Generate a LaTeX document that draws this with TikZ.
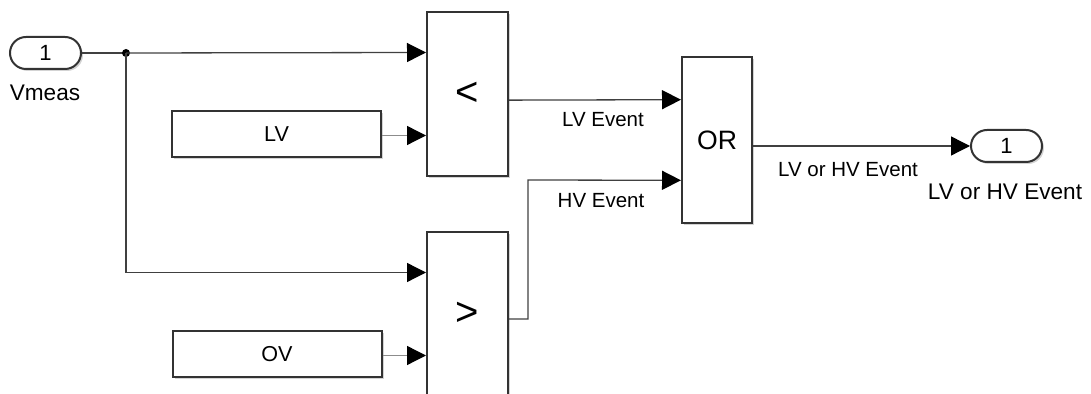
\documentclass[tikz,border=0pt]{standalone}
\usepackage{fontspec}
\setmainfont{Liberation Sans}
\usetikzlibrary{arrows.meta,calc,shadows}

\tikzset{
  blk/.style={draw=black!80, line width=1pt, fill=white,
    drop shadow={shadow xshift=1pt, shadow yshift=-1pt, opacity=0.35}},
  relop/.style={blk, minimum width=40.5pt, minimum height=82pt, font=\fontsize{20}{20}\selectfont},
  constblk/.style={blk, minimum width=104.5pt, minimum height=23pt, font=\fontsize{10.8}{12}\selectfont},
  port/.style={blk, rounded corners=8pt, minimum width=35.5pt, minimum height=16pt, font=\fontsize{11}{12}\selectfont},
  sig/.style={draw=black!75, line width=0.65pt, -{Triangle[length=9.5pt,width=9.5pt,color=black,fill=black]}},
  csig/.style={sig, draw=black!45},
  siglabel/.style={font=\fontsize{10.25}{12}\selectfont},
  portlabel/.style={font=\fontsize{11.3}{13}\selectfont}
}

\begin{document}
\begin{tikzpicture}[x=0.5pt,y=-0.5pt]

\clip (0,0) rectangle (1091,394);
\useasboundingbox (0,0) rectangle (1091,394);

% blocks
\node [port] (vin) at (45.5,53) {1};
\node [portlabel] (vinname) at (45,93) {Vmeas};

\node [constblk] (lvc) at (276.5,134) {LV};
\node [constblk] (ovc) at (277,354) {OV};

\node [relop] (lt) at (467.5,94) {<};
\node [relop] (gt) at (467.5,314) {>};

\node [blk, minimum width=35pt, minimum height=83pt, font=\fontsize{13.3}{14}\selectfont] (orgate) at (717,140) {OR};

\node [port] (vout) at (1006.5,146) {1};
\node [portlabel] (voutname) at (1005,192) {LV or HV Event};

% ports on the block edges
\coordinate (lt1) at ($(lt.north west)!0.25!(lt.south west)$);
\coordinate (lt2) at ($(lt.north west)!0.75!(lt.south west)$);
\coordinate (gt1) at ($(gt.north west)!0.25!(gt.south west)$);
\coordinate (gt2) at ($(gt.north west)!0.75!(gt.south west)$);
\coordinate (ltout) at ($(lt.north east)!0.537!(lt.south east)$);
\coordinate (gtout) at ($(gt.north east)!0.53!(gt.south east)$);
\coordinate (or1) at ($(orgate.north west)!0.26!(orgate.south west)$);
\coordinate (or2) at ($(orgate.north west)!0.74!(orgate.south west)$);
\coordinate (jn) at (126,53);

% signals
\draw [draw=black!75, line width=0.65pt] (vin.east) -- (jn);
\fill [black] (jn) circle (2pt);
\draw [sig] (jn) -- (lt1);
\draw [sig] (jn) |- (gt1);
\draw [csig] (lt2 -| lvc.east) -- (lt2);
\draw [csig] (gt2 -| ovc.east) -- (gt2);

\draw [sig] (ltout) -- (or1);
\node [siglabel] (lvevent) at (603,120) {LV Event};

\draw [sig] (gtout) -- (528,319) -- (528,180) -- (or2);
\node [siglabel] (hvevent) at (601,201) {HV Event};

\draw [sig] (orgate.east |- vout.west) -- (vout.west);
\node [siglabel] (outevent) at (848,170) {LV or HV Event};

\end{tikzpicture}
\end{document}
